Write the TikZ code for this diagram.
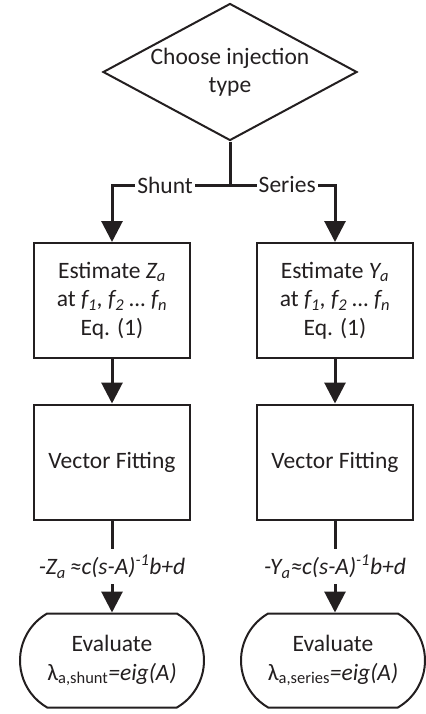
\documentclass[tikz,border=0pt]{standalone}
\usepackage{fontspec}
\setmainfont{Carlito}
\usetikzlibrary{shapes.geometric,shapes.misc,arrows.meta}
\definecolor{ink}{HTML}{231F20}
\begin{document}
\begin{tikzpicture}[x=1bp,y=-1bp,
  every node/.style={font=\fontsize{23.5bp}{28.5bp}\selectfont, text=ink},
  procbox/.style={draw=ink, line width=2bp, rectangle, minimum width=156bp, minimum height=115bp, align=center, inner sep=0pt},
  termbox/.style={draw=ink, line width=2bp, rounded rectangle, rounded rectangle arc length=120, minimum width=184bp, minimum height=94bp, align=center, inner sep=0pt},
  decbox/.style={draw=ink, line width=2bp, diamond, minimum width=254bp, minimum height=137bp, inner sep=0pt},
  conn/.style={draw=ink, line width=3bp},
  flow/.style={conn, -{Triangle[width=21bp,length=21bp]}},
  lbl/.style={fill=white, inner xsep=2bp, inner ysep=0pt},
  flbl/.style={fill=white, inner xsep=1bp, inner ysep=6bp}]
\useasboundingbox (0,0) rectangle (425,714);

\node[decbox, label={[align=center]center:Choose injection\\type}] (d) at (230,72) {};

\node[procbox] (e1) at (112,300.5) {Estimate {\itshape Z\textsubscript{a}}\\at {\itshape f\textsubscript{1}, f\textsubscript{2} \dots{} f\textsubscript{n}}\\Eq. (1)};
\node[procbox] (e2) at (335,300.5) {Estimate {\itshape Y\textsubscript{a}}\\at {\itshape f\textsubscript{1}, f\textsubscript{2} \dots{} f\textsubscript{n}}\\Eq. (1)};
\node[procbox] (v1) at (112,462) {Vector Fitting};
\node[procbox] (v2) at (335,462) {Vector Fitting};
\node[termbox] (t1) at (112,660.5) {Evaluate\\λ\textsubscript{a,shunt}{\itshape =eig(A)}};
\node[termbox] (t2) at (333,660.5) {Evaluate\\λ\textsubscript{a,series}{\itshape =eig(A)}};

\coordinate (j) at (230,185);
\coordinate (cl) at (112,185);
\coordinate (cr) at (335,185);

\draw[conn] (d.south) -- (j);
\draw[flow] (j) -- node[lbl,pos=0.55]{Shunt} (cl) -- (e1.north);
\draw[flow] (j) -- node[lbl,pos=0.545]{Series} (cr) -- (e2.north);
\draw[flow] (e1) -- (v1);
\draw[flow] (e2) -- (v2);
\draw[flow] (v1.south) -- node[flbl]{\itshape -Z\textsubscript{a}\,≈c(s-A)\textsuperscript{-1}b+d} (v1.south |- t1.north);
\draw[flow] (v2.south) -- node[flbl]{\itshape -Y\textsubscript{a}≈c(s-A)\textsuperscript{-1}b+d} (v2.south |- t2.north);
\end{tikzpicture}
\end{document}
